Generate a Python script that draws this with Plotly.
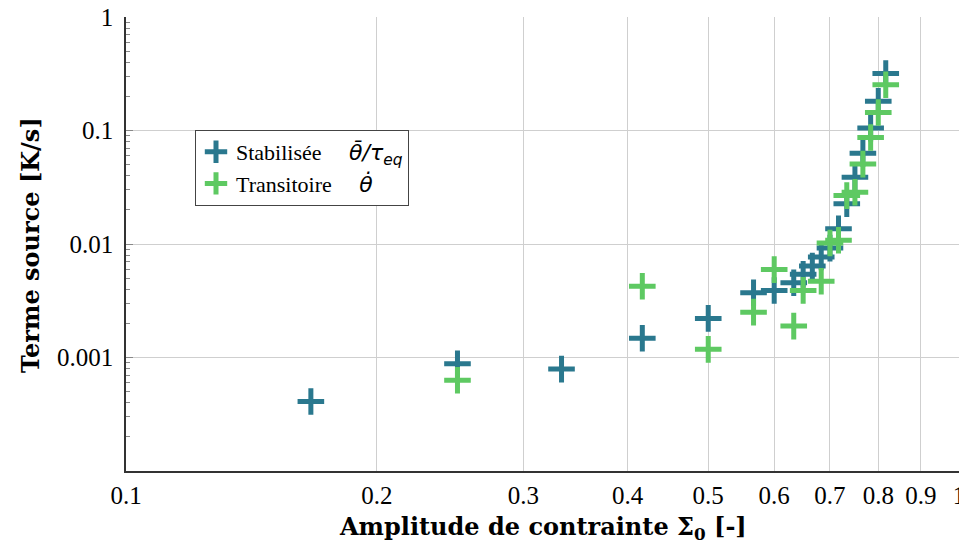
import plotly.graph_objects as go

# Data
x_stab = [0.1667, 0.25, 0.3333, 0.4167, 0.5, 0.5667, 0.6, 0.6333, 0.65, 0.6667,
          0.6833, 0.7, 0.7167, 0.7333, 0.75, 0.7667, 0.7833, 0.8, 0.8167]
y_stab = [0.00041, 0.00088, 0.00079, 0.00148, 0.00221, 0.00372, 0.00389, 0.00455,
          0.0054, 0.0064, 0.0077, 0.0092, 0.0136, 0.0226, 0.0387, 0.0629, 0.105,
          0.181, 0.318]

x_trans = [0.25, 0.4167, 0.5, 0.5667, 0.6, 0.6333, 0.65, 0.6833, 0.7, 0.7167,
           0.7333, 0.75, 0.7667, 0.7833, 0.8, 0.8167]
y_trans = [0.00063, 0.00425, 0.00118, 0.00251, 0.00595, 0.00189, 0.0039, 0.0047,
           0.0102, 0.0108, 0.0267, 0.0286, 0.0506, 0.0868, 0.144, 0.253]

x_tickvals = [0.1, 0.2, 0.3, 0.4, 0.5, 0.6, 0.7, 0.8, 0.9, 1.0]
x_ticktext = ["0.1", "0.2", "0.3", "0.4", "0.5", "0.6", "0.7", "0.8", "0.9", "1"]
y_tickvals = [0.001, 0.01, 0.1, 1]
y_ticktext = ["0.001", "0.01", "0.1", "1"]
y_minor = [m * 10.0 ** e for e in (-4, -3, -2, -1) for m in range(2, 10)]

x_title = "<b>Amplitude de contrainte Σ<sub>0</sub> [-]</b>"
y_title = "<b>Terme source [K/s]</b>"

SYM = "<span style='font-family:DejaVu Sans'><i>"
name_stab = "Stabilisée     " + SYM + "\u03b8\u0304/\u03c4<sub>eq</sub></i></span>"
name_trans = "Transitoire     " + SYM + "\u03b8\u0307</i></span>"

BLUE = "#2a788e"
GREEN = "#5ec962"
FONT = "Liberation Serif"
TFONT = "DejaVu Serif"

# the page body has an 8px margin: compensate so the plot lands where the reference has it
W, H = 959, 539
L, R, T, B = 118, 8, 9, 76
PW, PH = W - L - R, H - T - B

fig = go.Figure()
fig.add_trace(go.Scatter(
    x=x_stab, y=y_stab, mode="markers", name=name_stab,
    marker=dict(symbol="cross-thin", size=19, color=BLUE,
                line=dict(color=BLUE, width=5)),
))
fig.add_trace(go.Scatter(
    x=x_trans, y=y_trans, mode="markers", name=name_trans,
    marker=dict(symbol="cross-thin", size=19, color=GREEN,
                line=dict(color=GREEN, width=5)),
))

ann = [
    dict(text=x_title, xref="paper", yref="paper",
         x=0.5, y=-(528 - 471) / PH, xanchor="center", yanchor="middle",
         showarrow=False, font=dict(family=TFONT, size=24, color="black")),
    dict(text=y_title, xref="paper", yref="paper",
         x=-(126 - 30) / PW, y=1 - (245 - 17) / PH, xanchor="center", yanchor="middle",
         textangle=-90, showarrow=False,
         font=dict(family=TFONT, size=24, color="black")),
]

fig.update_layout(
    width=W, height=H,
    margin=dict(l=L, r=R, t=T, b=B),
    paper_bgcolor="white", plot_bgcolor="white",
    font=dict(family=FONT, size=25, color="black"),
    showlegend=True,
    legend=dict(
        x=(195 - 126) / PW, y=1 - (130 - 17) / PH, xanchor="left", yanchor="top",
        bgcolor="white", bordercolor="#444444", borderwidth=1,
        font=dict(family=FONT, size=22, color="black"),
        tracegroupgap=0, itemwidth=30,
    ),
    annotations=ann,
)

fig.update_xaxes(
    type="log", range=[-1, 0], automargin=False,
    tickvals=x_tickvals, ticktext=x_ticktext,
    showgrid=True, gridcolor="#cfcfcf", gridwidth=1,
    showline=True, linecolor="#333333", linewidth=1.5,
    ticks="", zeroline=False, ticklabelstandoff=1, ticklabeloverflow="allow",
    tickfont=dict(family=FONT, size=25),
)
fig.update_yaxes(
    type="log", range=[-4, 0], automargin=False,
    tickvals=y_tickvals, ticktext=y_ticktext,
    showgrid=True, gridcolor="#cfcfcf", gridwidth=1,
    showline=True, linecolor="#333333", linewidth=1.5,
    ticks="inside", ticklen=7, tickcolor="#888888", tickwidth=1,
    minor=dict(tickvals=y_minor, ticks="inside", ticklen=4,
               tickcolor="#888888", showgrid=False),
    zeroline=False, ticklabelstandoff=6, ticklabeloverflow="allow",
    tickfont=dict(family=FONT, size=25),
)

fig.write_html("out.html")
